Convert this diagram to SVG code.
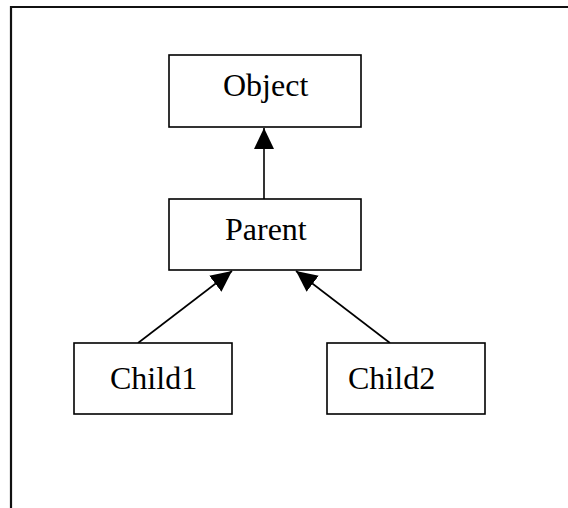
<svg xmlns="http://www.w3.org/2000/svg" width="568" height="508" viewBox="0 0 568 508">
  <style>
    .box { fill: #ffffff; stroke: #000000; stroke-width: 1.6; }
    .label { font-family: "Liberation Serif", "Times New Roman", serif; font-size: 32px; fill: #000000; }
    .edge { stroke: #000000; stroke-width: 1.6; fill: none; }
    .frame { stroke: #111111; stroke-width: 2.2; fill: none; }
  </style>
  <defs>
    <marker id="arrow" markerUnits="userSpaceOnUse" markerWidth="22" markerHeight="22" viewBox="0 0 22 20" refX="21" refY="10" orient="auto">
      <polygon points="0,0 21,10 0,20" fill="#000000"/>
    </marker>
  </defs>
  <rect width="568" height="508" fill="#ffffff"/>

  <!-- page frame: top and left edges -->
  <polyline class="frame" points="11,510 11,7 570,7"/>

  <!-- inheritance arrows -->
  <g id="connectors">
    <line class="edge" x1="264" y1="199" x2="264" y2="128" marker-end="url(#arrow)"/>
    <line class="edge" x1="138" y1="343" x2="232" y2="271" marker-end="url(#arrow)"/>
    <line class="edge" x1="390" y1="343" x2="296" y2="271" marker-end="url(#arrow)"/>
  </g>

  <g id="object">
    <rect class="box" x="169" y="55" width="192" height="72"/>
    <text class="label" x="223" y="96">Object</text>
  </g>

  <g id="parent">
    <rect class="box" x="169" y="199" width="192" height="71"/>
    <text class="label" x="225" y="240">Parent</text>
  </g>

  <g id="child1">
    <rect class="box" x="74" y="343" width="158" height="71"/>
    <text class="label" x="110" y="389">Child1</text>
  </g>

  <g id="child2">
    <rect class="box" x="327" y="343" width="158" height="71"/>
    <text class="label" x="348" y="389">Child2</text>
  </g>
</svg>
